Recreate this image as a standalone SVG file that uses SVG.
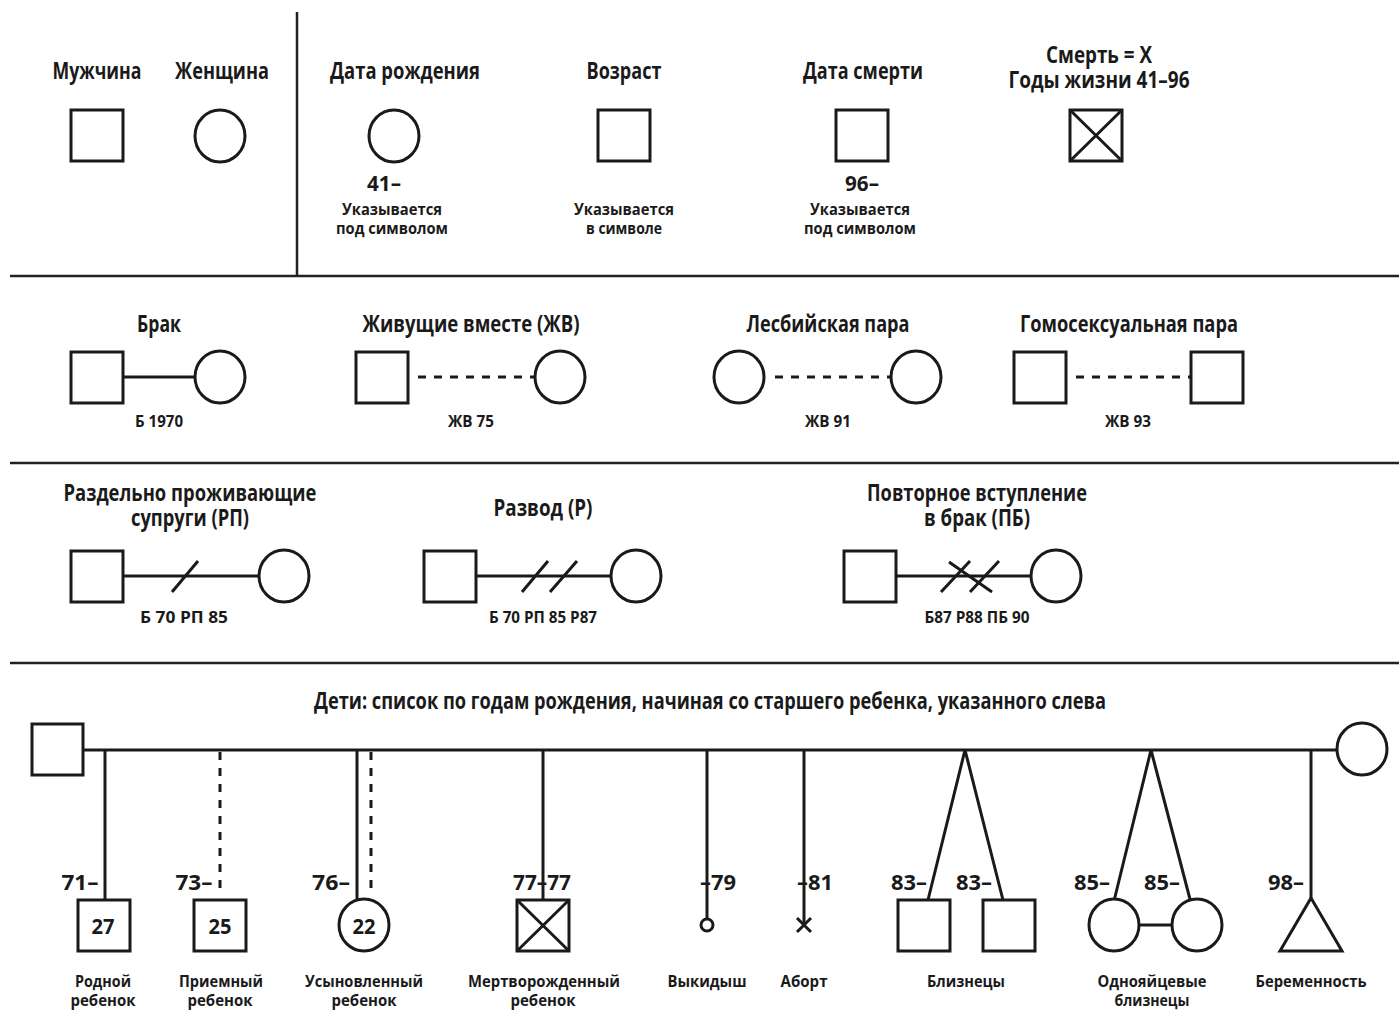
<svg xmlns="http://www.w3.org/2000/svg" width="1399" height="1012" viewBox="0 0 1399 1012">
<style>
text{font-family:"Open Sans","DejaVu Sans",sans-serif;font-weight:bold;fill:#1a1a1a;text-anchor:middle}
.h{font-size:23px}
.s{font-size:16.5px}
.n{font-size:22px}
.sym{fill:#fff;stroke:#1a1a1a;stroke-width:3}
.ln{stroke:#1a1a1a;stroke-width:3;fill:none}
.dash{stroke:#1a1a1a;stroke-width:3;fill:none;stroke-dasharray:8 8}
.div{stroke:#222;stroke-width:2.5}
</style>
<rect width="1399" height="1012" fill="#fff"/>
<g id="dividers">
<line class="div" x1="297" y1="12" x2="297" y2="276"/>
<line class="div" x1="10" y1="276" x2="1399" y2="276"/>
<line class="div" x1="10" y1="463" x2="1399" y2="463"/>
<line class="div" x1="10" y1="663" x2="1399" y2="663"/>
</g>
<g id="male"><text class="h" x="97" y="79" textLength="89" lengthAdjust="spacingAndGlyphs">Мужчина</text><rect class="sym" x="71" y="110" width="52" height="51"/></g>
<g id="female"><text class="h" x="222" y="79" textLength="94" lengthAdjust="spacingAndGlyphs">Женщина</text><ellipse class="sym" cx="220" cy="136" rx="25" ry="26"/></g>
<g id="birthdate"><text class="h" x="405" y="79" textLength="150" lengthAdjust="spacingAndGlyphs">Дата рождения</text><ellipse class="sym" cx="394" cy="136" rx="25" ry="26"/><text class="n" x="384" y="191" textLength="34" lengthAdjust="spacingAndGlyphs">41–</text><text class="s" x="392" y="215" textLength="100" lengthAdjust="spacingAndGlyphs">Указывается</text><text class="s" x="392" y="234" textLength="112" lengthAdjust="spacingAndGlyphs">под символом</text></g>
<g id="age"><text class="h" x="624" y="79" textLength="75" lengthAdjust="spacingAndGlyphs">Возраст</text><rect class="sym" x="598" y="110" width="52" height="51"/><text class="s" x="624" y="215" textLength="100" lengthAdjust="spacingAndGlyphs">Указывается</text><text class="s" x="624" y="234" textLength="76" lengthAdjust="spacingAndGlyphs">в символе</text></g>
<g id="deathdate"><text class="h" x="863" y="79" textLength="120" lengthAdjust="spacingAndGlyphs">Дата смерти</text><rect class="sym" x="836" y="110" width="52" height="51"/><text class="n" x="862" y="191" textLength="34" lengthAdjust="spacingAndGlyphs">96–</text><text class="s" x="860" y="215" textLength="100" lengthAdjust="spacingAndGlyphs">Указывается</text><text class="s" x="860" y="234" textLength="112" lengthAdjust="spacingAndGlyphs">под символом</text></g>
<g id="death"><text class="h" x="1099" y="63" textLength="106" lengthAdjust="spacingAndGlyphs">Смерть = X</text><text class="h" x="1099" y="88" textLength="181" lengthAdjust="spacingAndGlyphs">Годы жизни 41–96</text><rect class="sym" x="1070" y="110" width="52" height="51"/><path class="ln" d="M1070 110L1122 161M1122 110L1070 161"/></g>

<g id="connectors">
<line class="ln" x1="123" y1="377" x2="195" y2="377"/>
<line class="dash" x1="418" y1="377" x2="535" y2="377"/>
<line class="dash" x1="775" y1="377" x2="891" y2="377"/>
<line class="dash" x1="1076" y1="377" x2="1191" y2="377"/>
<line class="ln" x1="123" y1="576" x2="259" y2="576"/>
<line class="ln" x1="172" y1="592" x2="198" y2="561"/>
<line class="ln" x1="476" y1="576" x2="611" y2="576"/>
<path class="ln" d="M522 592L548 561M550 592L577 561"/>
<line class="ln" x1="896" y1="576" x2="1031" y2="576"/>
<path class="ln" d="M941 592L970 561M970 592L999 561M949 562L992 592"/>
<line class="ln" x1="83" y1="750" x2="1337" y2="750"/>
<line class="ln" x1="105" y1="750" x2="105" y2="900"/>
<line class="dash" x1="220" y1="752" x2="220" y2="892"/>
<line class="ln" x1="357" y1="750" x2="357" y2="902"/>
<line class="dash" x1="371" y1="752" x2="371" y2="892"/>
<line class="ln" x1="543" y1="750" x2="543" y2="900"/>
<line class="ln" x1="707" y1="750" x2="707" y2="919"/>
<line class="ln" x1="804" y1="750" x2="804" y2="925"/>
<path class="ln" d="M928 900L965 750L1003 900"/>
<path class="ln" d="M1114 901L1151 750L1191 903"/>
<line class="ln" x1="1139" y1="925" x2="1172" y2="925"/>
<line class="ln" x1="1311" y1="750" x2="1311" y2="898"/>
</g>

<g id="marriage"><text class="h" x="159" y="332" textLength="44" lengthAdjust="spacingAndGlyphs">Брак</text><rect class="sym" x="71" y="352" width="52" height="51"/><ellipse class="sym" cx="220" cy="377" rx="25" ry="26"/><text class="s" x="159" y="427" textLength="48" lengthAdjust="spacingAndGlyphs">Б 1970</text></g>
<g id="cohabiting"><text class="h" x="471" y="332" textLength="217" lengthAdjust="spacingAndGlyphs">Живущие вместе (ЖВ)</text><rect class="sym" x="356" y="352" width="52" height="51"/><ellipse class="sym" cx="560" cy="377" rx="25" ry="26"/><text class="s" x="471" y="427" textLength="46" lengthAdjust="spacingAndGlyphs">ЖВ 75</text></g>
<g id="lesbian"><text class="h" x="828" y="332" textLength="163" lengthAdjust="spacingAndGlyphs">Лесбийская пара</text><ellipse class="sym" cx="739" cy="377" rx="25" ry="26"/><ellipse class="sym" cx="916" cy="377" rx="25" ry="26"/><text class="s" x="828" y="427" textLength="46" lengthAdjust="spacingAndGlyphs">ЖВ 91</text></g>
<g id="gay"><text class="h" x="1129" y="332" textLength="218" lengthAdjust="spacingAndGlyphs">Гомосексуальная пара</text><rect class="sym" x="1014" y="352" width="52" height="51"/><rect class="sym" x="1191" y="352" width="52" height="51"/><text class="s" x="1128" y="427" textLength="46" lengthAdjust="spacingAndGlyphs">ЖВ 93</text></g>

<g id="separated"><text class="h" x="190" y="501" textLength="253" lengthAdjust="spacingAndGlyphs">Раздельно проживающие</text><text class="h" x="190" y="526" textLength="118" lengthAdjust="spacingAndGlyphs">супруги (РП)</text><rect class="sym" x="71" y="551" width="52" height="51"/><ellipse class="sym" cx="284" cy="576" rx="25" ry="26"/><text class="s" x="184" y="623" textLength="88" lengthAdjust="spacingAndGlyphs">Б 70 РП 85</text></g>
<g id="divorce"><text class="h" x="543" y="516" textLength="99" lengthAdjust="spacingAndGlyphs">Развод (Р)</text><rect class="sym" x="424" y="551" width="52" height="51"/><ellipse class="sym" cx="636" cy="576" rx="25" ry="26"/><text class="s" x="543" y="623" textLength="108" lengthAdjust="spacingAndGlyphs">Б 70 РП 85 Р87</text></g>
<g id="remarriage"><text class="h" x="977" y="501" textLength="220" lengthAdjust="spacingAndGlyphs">Повторное вступление</text><text class="h" x="977" y="526" textLength="106" lengthAdjust="spacingAndGlyphs">в брак (ПБ)</text><rect class="sym" x="844" y="551" width="52" height="51"/><ellipse class="sym" cx="1056" cy="576" rx="25" ry="26"/><text class="s" x="977" y="623" textLength="105" lengthAdjust="spacingAndGlyphs">Б87 Р88 ПБ 90</text></g>

<g id="children-title"><text class="h" x="710" y="709" textLength="792" lengthAdjust="spacingAndGlyphs">Дети: список по годам рождения, начиная со старшего ребенка, указанного слева</text></g>
<g id="father"><rect class="sym" x="32" y="724" width="51" height="51"/></g>
<g id="mother"><ellipse class="sym" cx="1362" cy="749" rx="25" ry="26"/></g>
<g id="biological"><text class="n" x="80" y="890" textLength="37" lengthAdjust="spacingAndGlyphs">71–</text><rect class="sym" x="78" y="900" width="52" height="51"/><text class="n" x="103" y="934" textLength="23" lengthAdjust="spacingAndGlyphs">27</text><text class="s" x="103" y="987" textLength="56" lengthAdjust="spacingAndGlyphs">Родной</text><text class="s" x="103" y="1006" textLength="65" lengthAdjust="spacingAndGlyphs">ребенок</text></g>
<g id="foster"><text class="n" x="194" y="890" textLength="37" lengthAdjust="spacingAndGlyphs">73–</text><rect class="sym" x="194" y="900" width="52" height="51"/><text class="n" x="220" y="934" textLength="23" lengthAdjust="spacingAndGlyphs">25</text><text class="s" x="221" y="987" textLength="84" lengthAdjust="spacingAndGlyphs">Приемный</text><text class="s" x="220" y="1006" textLength="65" lengthAdjust="spacingAndGlyphs">ребенок</text></g>
<g id="adopted"><text class="n" x="331" y="890" textLength="38" lengthAdjust="spacingAndGlyphs">76–</text><ellipse class="sym" cx="364" cy="925" rx="25" ry="26"/><text class="n" x="364" y="934" textLength="23" lengthAdjust="spacingAndGlyphs">22</text><text class="s" x="364" y="987" textLength="118" lengthAdjust="spacingAndGlyphs">Усыновленный</text><text class="s" x="364" y="1006" textLength="65" lengthAdjust="spacingAndGlyphs">ребенок</text></g>
<g id="stillborn"><text class="n" x="542" y="890" textLength="58" lengthAdjust="spacingAndGlyphs">77–77</text><rect class="sym" x="517" y="900" width="52" height="51"/><path class="ln" d="M517 900L569 951M569 900L517 951"/><text class="s" x="544" y="987" textLength="152" lengthAdjust="spacingAndGlyphs">Мертворожденный</text><text class="s" x="543" y="1006" textLength="65" lengthAdjust="spacingAndGlyphs">ребенок</text></g>
<g id="miscarriage"><text class="n" x="718" y="890" textLength="36" lengthAdjust="spacingAndGlyphs">–79</text><circle class="sym" cx="707" cy="925" r="6"/><text class="s" x="707" y="987" textLength="79" lengthAdjust="spacingAndGlyphs">Выкидыш</text></g>
<g id="abortion"><text class="n" x="815" y="890" textLength="36" lengthAdjust="spacingAndGlyphs">–81</text><path class="ln" d="M797 918L811 932M811 918L797 932"/><text class="s" x="804" y="987" textLength="47" lengthAdjust="spacingAndGlyphs">Аборт</text></g>
<g id="twins"><text class="n" x="909" y="890" textLength="36" lengthAdjust="spacingAndGlyphs">83–</text><text class="n" x="974" y="890" textLength="36" lengthAdjust="spacingAndGlyphs">83–</text><rect class="sym" x="898" y="900" width="52" height="51"/><rect class="sym" x="983" y="900" width="52" height="51"/><text class="s" x="966" y="987" textLength="78" lengthAdjust="spacingAndGlyphs">Близнецы</text></g>
<g id="identical-twins"><text class="n" x="1092" y="890" textLength="36" lengthAdjust="spacingAndGlyphs">85–</text><text class="n" x="1162" y="890" textLength="36" lengthAdjust="spacingAndGlyphs">85–</text><ellipse class="sym" cx="1114" cy="925" rx="25" ry="26"/><ellipse class="sym" cx="1197" cy="925" rx="25" ry="26"/><text class="s" x="1152" y="987" textLength="109" lengthAdjust="spacingAndGlyphs">Однояйцевые</text><text class="s" x="1152" y="1006" textLength="75" lengthAdjust="spacingAndGlyphs">близнецы</text></g>
<g id="pregnancy"><text class="n" x="1286" y="890" textLength="36" lengthAdjust="spacingAndGlyphs">98–</text><path class="sym" d="M1311 898L1342 951L1280 951Z"/><text class="s" x="1311" y="987" textLength="111" lengthAdjust="spacingAndGlyphs">Беременность</text></g>
</svg>
